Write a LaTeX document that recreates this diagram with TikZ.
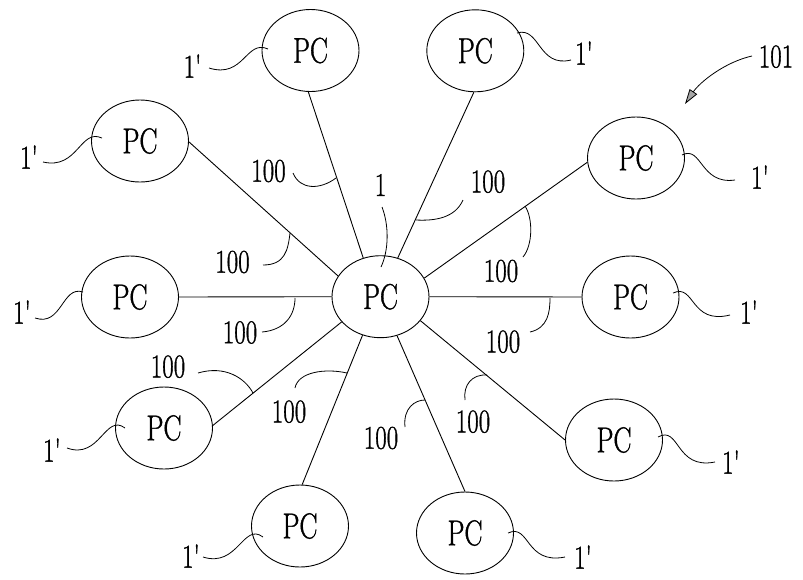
\documentclass[tikz,border=0pt]{standalone}
\usepackage{fontspec}
\newfontfamily\figfont{Latin Modern Roman}[FakeBold=1.2]
\newcommand{\tx}[1]{\scalebox{1}[1.33]{#1}}
\usetikzlibrary{arrows.meta,shapes.geometric}
\begin{document}
\begin{tikzpicture}[x=1pt,y=-1pt,
  pc/.style={ellipse,draw,line width=0.9pt,minimum width=97pt,minimum height=82pt,inner sep=0pt,
    font=\figfont\fontsize{27}{27}\selectfont},
  lbl/.style={inner sep=0pt,font=\figfont\fontsize{25}{25}\selectfont},
  link/.style={line width=0.9pt},
  lead/.style={line width=0.8pt}]
\useasboundingbox (0,0) rectangle (803,579);
% nodes
\node[pc] (c)  at (380.5,296.7) {\tx{PC}};
\node[pc] (t1) at (310.5,50.5) {\tx{PC}};
\node[pc] (t2) at (475.3,50.8) {\tx{PC}};
\node[pc] (l1) at (140,141) {\tx{PC}};
\node[pc] (r1) at (636,158) {\tx{PC}};
\node[pc] (l2) at (130,297) {\tx{PC}};
\node[pc] (r2) at (630.5,297) {\tx{PC}};
\node[pc] (l3) at (164,428) {\tx{PC}};
\node[pc] (b1) at (300,526) {\tx{PC}};
\node[pc] (r3) at (614,440) {\tx{PC}};
\node[pc] (b2) at (465,533) {\tx{PC}};
% links
\draw[link] (c.114) -- (t1.-93);
\draw[link] (c.66) -- (t2.-92);
\draw[link] (c.154) -- (l1.-1);
\draw[link] (c.23) -- (r1.-175);
\draw[link] (c.west) -- (l2.east);
\draw[link] (c.east) -- (r2.west);
\draw[link] (c.-147) -- (l3.3);
\draw[link] (c.-115) -- (b1.87);
\draw[link] (c.-31) -- (r3.180);
\draw[link] (c.-67) -- (b2.90);
% 1' labels
\node[lbl] (t1n) at (192.5,66) {\tx{1'}};
\node[lbl] (l1n) at (29,157) {\tx{1'}};
\node[lbl] (t2n) at (584,53) {\tx{1'}};
\node[lbl] (r1n) at (760,177) {\tx{1'}};
\node[lbl] (l2n) at (22,312) {\tx{1'}};
\node[lbl] (l3n) at (52,450) {\tx{1'}};
\node[lbl] (b1n) at (191,556) {\tx{1'}};
\node[lbl] (r2n) at (749,312) {\tx{1'}};
\node[lbl] (r3n) at (731,462) {\tx{1'}};
\node[lbl] (b2n) at (583,557) {\tx{1'}};
% tails
\draw[lead] (268,49) .. controls (246,39) and (244,79) .. (209,68);
\draw[lead] (102,138) .. controls (80,128) and (78,170) .. (43,162);
\draw[lead] (83,292) .. controls (62,285) and (62,327) .. (35,318);
\draw[lead] (125,428) .. controls (105,413) and (100,460) .. (67,448);
\draw[lead] (263,537) .. controls (243,522) and (238,568) .. (203,557);
\draw[lead] (517,33) .. controls (540,26) and (538,68) .. (571,60);
\draw[lead] (682,155) .. controls (702,145) and (700,185) .. (735,180);
\draw[lead] (673,293) .. controls (695,283) and (690,325) .. (730,315);
\draw[lead] (658,437) .. controls (680,425) and (675,470) .. (715,462);
\draw[lead] (508,533) .. controls (530,523) and (525,565) .. (565,557);
% 100 labels
\node[lbl] (a1) at (268.5,171) {\tx{100}};
\node[lbl] (a2) at (232.5,262) {\tx{100}};
\node[lbl] (a3) at (488,181.7) {\tx{100}};
\node[lbl] (a4) at (501,271) {\tx{100}};
\node[lbl] (a5) at (240,332.5) {\tx{100}};
\node[lbl] (a6) at (503,341.7) {\tx{100}};
\node[lbl] (a7) at (168,366.7) {\tx{100}};
\node[lbl] (a8) at (289,411.7) {\tx{100}};
\node[lbl] (a9) at (381,438) {\tx{100}};
\node[lbl] (a10) at (473,421.7) {\tx{100}};
\node[lbl] (one) at (380.5,185) {\tx{1}};
% leaders
\draw[lead] (293,173) .. controls (300,190) and (320,190) .. (336,178);
\draw[lead] (263,265) .. controls (285,265) and (288,250) .. (290,233);
\draw[lead] (382,207) .. controls (389,225) and (389,250) .. (381,267);
\draw[lead] (463,200) .. controls (455,218) and (435,221) .. (416,220);
\draw[lead] (523,257) .. controls (533,245) and (533,218) .. (525,206);
\draw[lead] (262,332) .. controls (285,330) and (295,315) .. (295,298);
\draw[lead] (530,332) .. controls (548,328) and (550,312) .. (550,298);
\draw[lead] (198,373) .. controls (225,365) and (245,378) .. (253,393);
\draw[lead] (295,388) .. controls (298,372) and (325,368) .. (347,373);
\draw[lead] (405,427) .. controls (403,408) and (415,400) .. (425,400);
\draw[lead] (465,400) .. controls (463,385) and (472,374) .. (487,375);
% 101
\node[lbl] (ref) at (776,56.7) {\tx{101}};
\draw[lead,-{Triangle[length=15pt,width=9pt,fill=gray!70]}] (752,56) .. controls (725,62) and (700,82) .. (685,104);
\end{tikzpicture}
\end{document}
